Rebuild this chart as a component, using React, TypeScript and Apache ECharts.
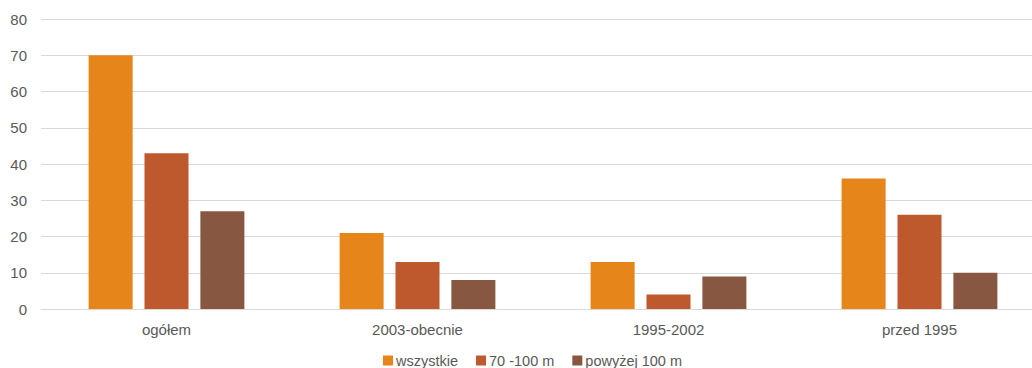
import React, { useEffect, useRef } from "react";
import * as echarts from "echarts";

const categories = ["ogółem", "2003-obecnie", "1995-2002", "przed 1995"];
const seriesNames = ["wszystkie", "70 -100 m", "powyżej 100 m"];
const wszystkie = [70, 21, 13, 36];
const m70_100 = [43, 13, 4, 26];
const powyzej100 = [27, 8, 9, 10];
const colors = ["#E6851A", "#BE582D", "#875741"];

export default function App() {
  const ref = useRef<HTMLDivElement>(null);
  useEffect(() => {
    document.body.style.margin = "0";
    const chart = echarts.init(ref.current!, undefined, { renderer: "svg" });
    const font = "Liberation Sans";
    chart.setOption({
      animation: false,
      color: colors,
      textStyle: { fontFamily: font },
      grid: { left: 41, right: 0, top: 19, height: 290 },
      legend: {
        top: 353,
        left: 383,
        padding: 0,
        itemWidth: 10,
        itemHeight: 10,
        itemGap: 18,
        icon: "rect",
        textStyle: {
          color: "#595959",
          fontSize: 14.5,
          lineHeight: 14,
          fontFamily: font,
          padding: [0, 0, 0, -2],
        },
        data: seriesNames,
      },
      xAxis: {
        type: "category",
        data: categories,
        axisLine: { lineStyle: { color: "#D9D9D9", width: 1 } },
        axisTick: { show: false },
        axisLabel: { color: "#595959", fontSize: 15, fontFamily: font, margin: 13 },
      },
      yAxis: {
        type: "value",
        min: 0,
        max: 80,
        interval: 10,
        axisLine: { show: false },
        axisTick: { show: false },
        splitLine: { lineStyle: { color: "#D9D9D9", width: 1 } },
        axisLabel: { color: "#595959", fontSize: 15, fontFamily: font, margin: 14 },
      },
      series: [
        { name: seriesNames[0], type: "bar", data: wszystkie, barWidth: 44, barGap: "27%" },
        { name: seriesNames[1], type: "bar", data: m70_100, barWidth: 44, barGap: "27%" },
        { name: seriesNames[2], type: "bar", data: powyzej100, barWidth: 44, barGap: "27%" },
      ],
    });
    return () => chart.dispose();
  }, []);
  return (
    <div style={{ width: 1032, height: 368, overflow: "hidden", position: "relative" }}>
      <div ref={ref} style={{ width: 1045, height: 368 }} />
    </div>
  );
}
